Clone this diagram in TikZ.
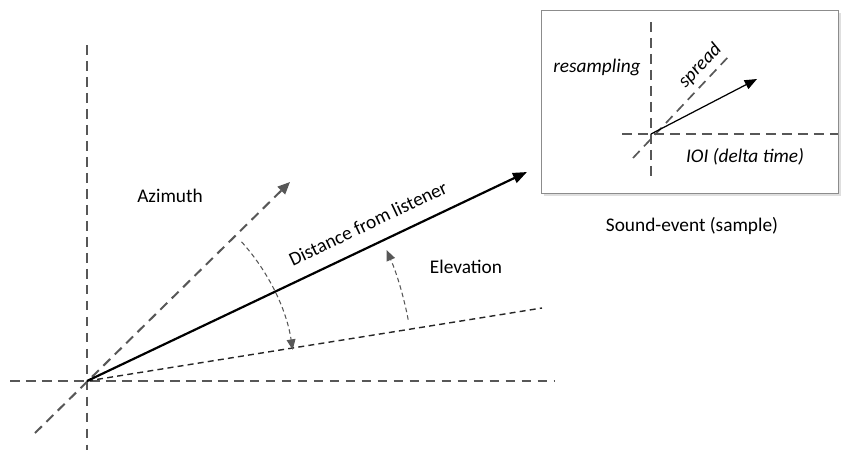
\documentclass[tikz,border=0pt]{standalone}
\usepackage{fontspec}
\setmainfont{Carlito}
\usetikzlibrary{arrows.meta,shadows}
\definecolor{axgray}{HTML}{575757}
\tikzset{
  ax/.style={line width=1.15pt,dash pattern=on 5.5pt off 3.6pt,axgray},
  axarr/.style={ax,-{Triangle[length=7pt,width=6pt]}},
  elev/.style={line width=0.8pt,dash pattern=on 3.4pt off 2.4pt,black!85},
  dist/.style={line width=1.25pt,-{Triangle[length=8pt,width=6pt]}},
  ang/.style={line width=0.6pt,dash pattern=on 2.6pt off 1.8pt,axgray,-{Triangle[length=6pt,width=5pt]}},
  lbl/.style={inner sep=0pt,text=black,font=\fontsize{11}{13}\selectfont},
  ilbl/.style={lbl,font=\fontsize{11}{13}\selectfont\itshape},
  panel/.style={draw=black!45,line width=0.8pt,fill=white,drop shadow={shadow xshift=1.5pt,shadow yshift=-1.5pt,opacity=0.25}}
}

\begin{document}
\begin{tikzpicture}[x=0.02cm,y=0.02cm]
\useasboundingbox (0,0) rectangle (846,451);
% listener axes
\coordinate (O) at (87,70);
\coordinate (vtop) at (87,406); \coordinate (vbot) at (87,1);
\coordinate (hl) at (10,70); \coordinate (hr) at (555,70);
\coordinate (azlo) at (35,18); \coordinate (azhi) at (290,269);
\coordinate (src) at (527,279); \coordinate (elhi) at (542,143);
\draw[ax] (vtop) -- (vbot);
\draw[ax] (hl) -- (hr);
\draw[axarr] (azlo) -- (azhi);
\draw[elev] (O) -- (elhi);
\draw[dist] (O) -- node[lbl,sloped,above=8pt,pos=0.66] (dlbl) {Distance from listener} (src);
% angles
\coordinate (az1) at ([shift={(42:208)}]O);
\coordinate (el1) at ([shift={(10.8:327)}]O);
\draw[ang] (az1) arc[start angle=42,end angle=8.6,radius=208];
\draw[ang] (el1) arc[start angle=10.8,end angle=23.6,radius=327];
\node[lbl] (azlbl) at (170,255) {Azimuth};
\node[lbl] (ellbl) at (466,184) {Elevation};
% sound-event panel
\node[panel,minimum width=297*0.02cm,minimum height=183*0.02cm,anchor=north west] (box) at (541,441) {};
\coordinate (bvt) at (651,429); \coordinate (bvb) at (651,273);
\coordinate (bhl) at (622,317); \coordinate (bhr) at (838,317);
\coordinate (bdl) at (633,293); \coordinate (bdh) at (730,396);
\coordinate (bO) at (651,317); \coordinate (bsrc) at (757,372);
\draw[ax,line width=0.95pt] (bvt) -- (bvb);
\draw[ax,line width=0.95pt] (bhl) -- (bhr);
\draw[ax,line width=0.95pt] (bdl) -- node[ilbl,sloped,above=3pt,pos=0.8] (spr) {spread} (bdh);
\draw[line width=0.7pt,-{Triangle[length=7pt,width=5.5pt]}] (bO) -- (bsrc);
\node[ilbl] (res) at (597,384) {resampling};
\node[ilbl] (ioi) at (745,294) {IOI (delta time)};
\node[lbl] (cap) at (692,225) {Sound-event (sample)};
\end{tikzpicture}
\end{document}
